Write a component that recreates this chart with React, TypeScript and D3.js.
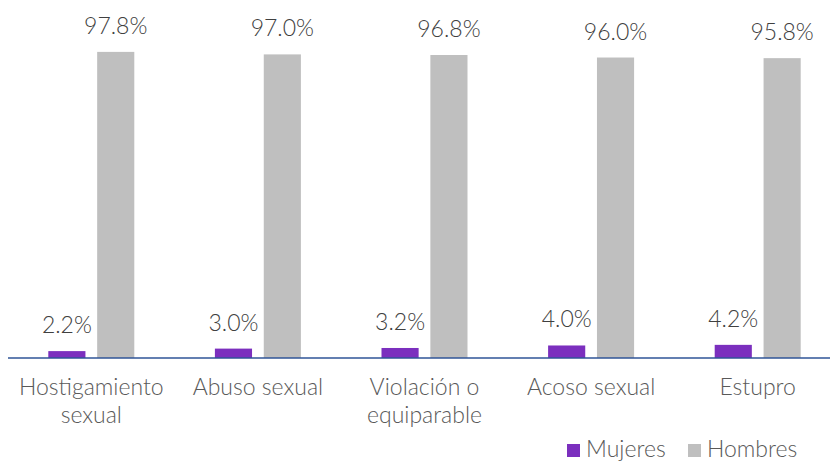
import React from "react";
import * as d3 from "d3";

const categories = [
  ["Hostigamiento", "sexual"],
  ["Abuso sexual"],
  ["Violación o", "equiparable"],
  ["Acoso sexual"],
  ["Estupro"],
];
const mujeres = [2.2, 3.0, 3.2, 4.0, 4.2];
const hombres = [97.8, 97.0, 96.8, 96.0, 95.8];
const seriesNames = ["Mujeres", "Hombres"];
const seriesColors = ["#7B2FBE", "#BFBFBF"];

const W = 830;
const H = 462;
const baseY = 358;
const font = "Lato, 'Open Sans', sans-serif";

const App = () => {
  const x0 = d3
    .scaleBand<number>()
    .domain(d3.range(categories.length))
    .range([8, 841]);
  const x1 = d3
    .scaleBand<number>()
    .domain([0, 1])
    .range([x0.bandwidth() / 2 - 43, x0.bandwidth() / 2 + 43])
    .paddingInner(0.24);
  const y = d3.scaleLinear().domain([0, 100]).range([baseY, baseY - 313]);

  const series = [mujeres, hombres];
  const legendX = [567, 688];

  return (
    <svg
      width={W}
      height={H}
      style={{ position: "absolute", left: 0, top: 0, background: "#fff" }}
    >
      {categories.map((cat, i) => (
        <g key={i} transform={`translate(${x0(i)},0)`}>
          {series.map((s, j) => (
            <g key={j}>
              <rect
                x={x1(j)}
                y={y(s[i])}
                width={x1.bandwidth()}
                height={baseY - y(s[i])}
                fill={seriesColors[j]}
              />
              <text
                x={(x1(j) as number) + x1.bandwidth() / 2}
                y={y(s[i]) - 18}
                textAnchor="middle"
                fontFamily={font}
                fontWeight={300}
                fontSize={23}
                fill="#404040"
              >
                {s[i].toFixed(1) + "%"}
              </text>
            </g>
          ))}
          {cat.map((line, k) => (
            <text
              key={k}
              x={x0.bandwidth() / 2}
              y={395 + k * 28}
              textAnchor="middle"
              fontFamily={font}
              fontWeight={300}
              fontSize={23}
              fill="#595959"
            >
              {line}
            </text>
          ))}
        </g>
      ))}
      <line x1={8} x2={W} y1={baseY} y2={baseY} stroke="#2F5597" strokeWidth={1.5} />
      <g>
        {seriesNames.map((name, j) => (
          <g key={name} transform={`translate(${legendX[j]},0)`}>
            <rect x={0} y={444} width={13} height={13} fill={seriesColors[j]} />
            <text
              x={19}
              y={457}
              fontFamily={font}
              fontWeight={300}
              fontSize={23}
              fill="#595959"
            >
              {name}
            </text>
          </g>
        ))}
      </g>
    </svg>
  );
};

export default App;
